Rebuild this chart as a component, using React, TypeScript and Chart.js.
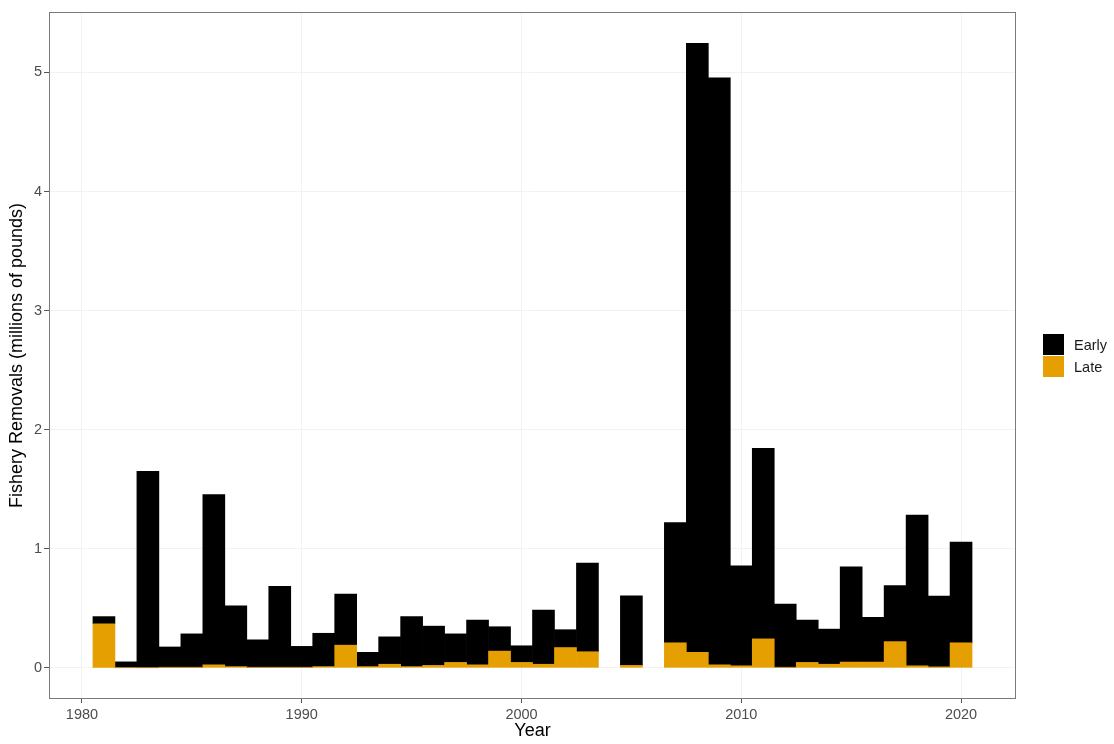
import React, { useEffect, useRef } from "react";
import { Chart, registerables } from "chart.js";

Chart.register(...registerables);

const years = [
  1981, 1982, 1983, 1984, 1985, 1986, 1987, 1988, 1989, 1990,
  1991, 1992, 1993, 1994, 1995, 1996, 1997, 1998, 1999, 2000,
  2001, 2002, 2003, 2005, 2007, 2008, 2009, 2010,
  2011, 2012, 2013, 2014, 2015, 2016, 2017, 2018, 2019, 2020,
];

const early = [
  0.06, 0.05, 1.65, 0.17, 0.28, 1.43, 0.51, 0.23, 0.68, 0.175,
  0.28, 0.43, 0.12, 0.23, 0.42, 0.33, 0.24, 0.375, 0.205, 0.14,
  0.455, 0.15, 0.745, 0.585, 1.01, 5.115, 4.93, 0.84,
  1.6, 0.53, 0.355, 0.295, 0.8, 0.375, 0.47, 1.265, 0.595, 0.845,
];

const late = [
  0.37, 0.0, 0.0, 0.005, 0.005, 0.025, 0.01, 0.005, 0.005, 0.005,
  0.01, 0.19, 0.01, 0.03, 0.01, 0.02, 0.045, 0.025, 0.14, 0.045,
  0.03, 0.17, 0.135, 0.02, 0.21, 0.13, 0.025, 0.017,
  0.243, 0.005, 0.045, 0.03, 0.048, 0.048, 0.22, 0.017, 0.008, 0.21,
];

const xTicks = [1980, 1990, 2000, 2010, 2020];
const yTicks = [0, 1, 2, 3, 4, 5];

const EARLY_COLOR = "#000000";
const LATE_COLOR = "#E69F00";
const FONT = "'Liberation Sans', Arial, Helvetica, sans-serif";

const panelPlugin = {
  id: "panelBorder",
  afterDatasetsDraw(chart: any) {
    const { ctx, chartArea } = chart;
    ctx.save();
    ctx.strokeStyle = "#7a7a7a";
    ctx.lineWidth = 1;
    ctx.strokeRect(
      Math.round(chartArea.left) + 0.5,
      Math.round(chartArea.top) + 0.5,
      Math.round(chartArea.right - chartArea.left) - 1,
      Math.round(chartArea.bottom - chartArea.top) - 1
    );
    ctx.restore();
  },
};

const legendPlugin = {
  id: "sideLegend",
  afterDraw(chart: any) {
    const { ctx, chartArea } = chart;
    const items = [
      { label: chart.data.datasets[1].label, color: chart.data.datasets[1].backgroundColor },
      { label: chart.data.datasets[0].label, color: chart.data.datasets[0].backgroundColor },
    ];
    const x = chartArea.right + 27;
    const box = 21;
    const cy = (chartArea.top + chartArea.bottom) / 2;
    const y0 = cy - box - 0.5;
    ctx.save();
    ctx.font = `14.5px ${FONT}`;
    ctx.textBaseline = "middle";
    ctx.textAlign = "left";
    items.forEach((it, i) => {
      const y = y0 + i * (box + 1);
      ctx.fillStyle = it.color;
      ctx.fillRect(x, y, box, box);
      ctx.fillStyle = "#1a1a1a";
      ctx.fillText(it.label, x + box + 10, y + box / 2 + 1);
    });
    ctx.restore();
  },
};

export default function App() {
  const canvasRef = useRef<HTMLCanvasElement | null>(null);

  useEffect(() => {
    document.body.style.margin = "0";
    const canvas = canvasRef.current;
    if (!canvas) return;
    const chart = new Chart(canvas, {
      type: "bar",
      data: {
        datasets: [
          {
            label: "Late",
            data: years.map((yr, i) => ({ x: yr, y: late[i] })),
            backgroundColor: LATE_COLOR,
            borderWidth: 0,
            barPercentage: 1,
            categoryPercentage: 1,
          },
          {
            label: "Early",
            data: years.map((yr, i) => ({ x: yr, y: early[i] })),
            backgroundColor: EARLY_COLOR,
            borderWidth: 0,
            barPercentage: 1,
            categoryPercentage: 1,
          },
        ],
      },
      options: {
        animation: false,
        responsive: true,
        maintainAspectRatio: false,
        layout: { padding: { top: 12, right: 98, left: 0, bottom: 0 } },
        plugins: {
          legend: { display: false },
          tooltip: { enabled: false },
        },
        scales: {
          x: {
            type: "linear",
            stacked: true,
            offset: false,
            min: 1978.5,
            max: 2022.5,
            afterBuildTicks: (scale: any) => {
              scale.ticks = xTicks.map((v) => ({ value: v }));
            },
            afterFit: (scale: any) => {
              scale.height = 45;
            },
            grid: {
              offset: false,
              color: "#f2f2f2",
              lineWidth: 1,
              tickColor: "#555555",
              tickLength: 4,
              drawOnChartArea: true,
            },
            border: { display: false },
            ticks: {
              color: "#4d4d4d",
              font: { family: FONT, size: 14.5 },
              padding: 3,
              maxRotation: 0,
              callback: (v: any) => String(v),
            },
            title: {
              display: true,
              text: "Year",
              color: "#000000",
              font: { family: FONT, size: 18 },
              padding: { top: 0, bottom: 2 },
            },
          },
          y: {
            type: "linear",
            stacked: true,
            min: -0.262,
            max: 5.508,
            afterBuildTicks: (scale: any) => {
              scale.ticks = yTicks.map((v) => ({ value: v }));
            },
            afterFit: (scale: any) => {
              scale.width = 49;
            },
            grid: {
              color: "#f2f2f2",
              lineWidth: 1,
              tickColor: "#555555",
              tickLength: 5,
            },
            border: { display: false },
            ticks: {
              color: "#4d4d4d",
              font: { family: FONT, size: 14.5 },
              padding: 2,
              callback: (v: any) => String(v),
            },
            title: {
              display: true,
              text: "Fishery Removals (millions of pounds)",
              color: "#000000",
              font: { family: FONT, size: 18 },
              padding: { top: 6, bottom: 0 },
            },
          },
        },
      },
      plugins: [panelPlugin, legendPlugin],
    });
    return () => chart.destroy();
  }, []);

  return (
    <div style={{ position: "relative", width: 1114, height: 744 }}>
      <canvas ref={canvasRef} />
    </div>
  );
}
